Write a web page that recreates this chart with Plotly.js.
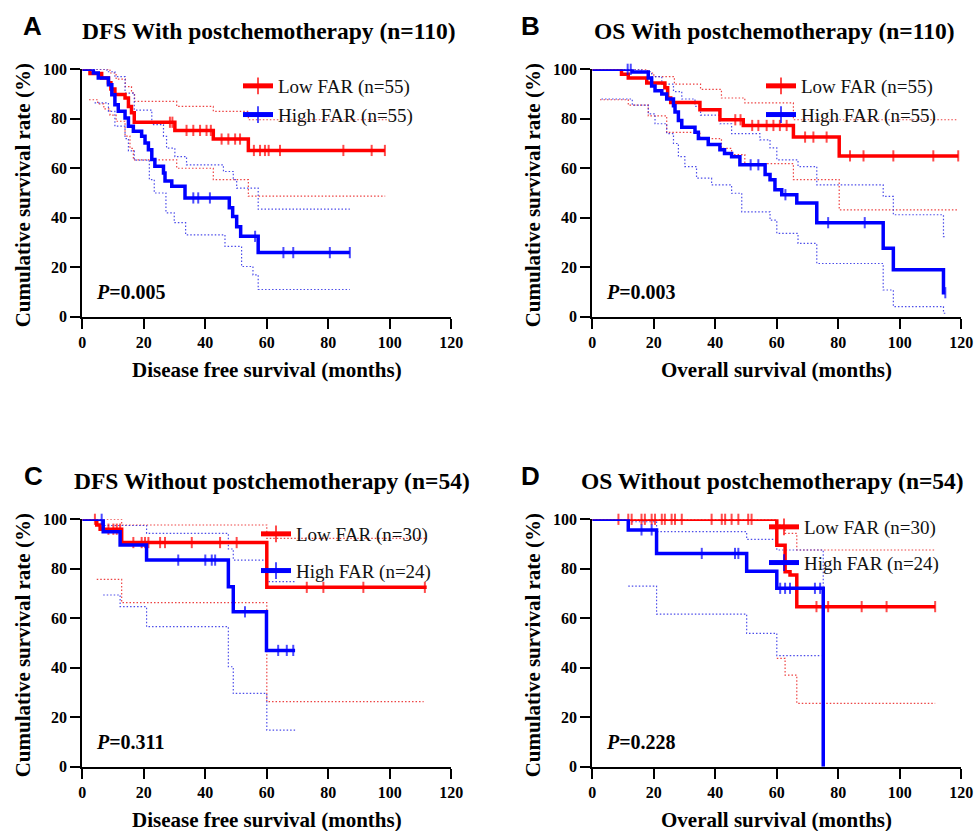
<!DOCTYPE html>
<html><head><meta charset="utf-8">
<script src="https://cdn.plot.ly/plotly-3.0.1.min.js"></script>
<style>html,body{margin:0;padding:0;background:#fff}#chart{width:977px;height:831px}</style>
</head><body><div id="chart"></div>
<script>
// ---------- Panel A: DFS with postchemotherapy ----------
const A_lowT  = [0,2.5,6.3,8.5,9.3,10.6,13.9,15,16,16.9,30.1,42.6,54,98.4];
const A_lowS  = [100,98.3,96.5,94.6,92,89.8,88.4,85,82.4,78.6,75.3,71.8,67.2,67.2];
const A_lowC  = [28.5,29.3,33.9,36.1,38.3,40.4,41.8,45.3,47.5,49.7,51.3,55.8,57.8,59.4,60.6,64.3,84.9,94.1,98.4];
const A_highT = [0,3.6,5.2,8.5,9.6,10.6,11.7,13.9,15,16.6,19.3,20.4,21.5,22.6,23.6,26.4,26.9,29.1,33.4,47.8,48.9,50.2,51.5,57.2,87];
const A_highS = [100,98.5,96.5,93.8,89.7,85.7,83,80.3,77,75,72.9,70.2,67.5,63.5,60.8,58.1,54.8,52.7,48,44,40.5,36.4,32.5,25.9,25.9];
const A_highC = [36.1,37.7,41.5,56.2,65.4,68.6,80.5,87];
const A_lowUpT  = [0,9,11,14,16,17,30.7,42.6,54,99];
const A_lowUpS  = [100,98.5,96,93,90.5,87,85,83,79.6,79.6];
const A_lowLoT  = [2.2,5,7,9,11,13.9,15.5,16.6,30.7,42.6,54,98.5];
const A_lowLoS  = [87.7,86,84,81.5,79,73,68,63.4,60,55.4,48.7,48.7];
const A_highUpT = [0,8,10.6,13.9,16.9,22.6,26.4,27.4,30.1,33.9,45.9,49.1,50.2,57.2,87];
const A_highUpS = [100,99,97,90.4,83.5,77.6,72.9,68.1,64.7,61.4,58.7,55.4,52,43.5,43.5];
const A_highLoT = [4,8.5,10.6,13.9,15,16.9,21.8,23.4,27.2,29.9,33.6,46.4,51.8,55.5,57.2,87];
const A_highLoS = [86.4,83,77,72,67,63.3,55.4,50,42,38,33.1,28.4,20.3,16.9,11,11];

// ---------- Panel B: OS with postchemotherapy ----------
const B_lowT  = [0,9.5,11.7,17.7,23.6,24.5,25.5,35,41.5,49.1,65.4,80.3,119];
const B_lowS  = [100,98,96.5,94.5,92.5,88.4,86.6,83.7,79.6,77.3,72.6,65,65];
const B_lowC  = [46.5,48.2,52,54,56.7,58.9,61,63.2,69.2,71.9,76.2,83.8,88.2,97.9,110.9,119];
const B_highT = [0,13,18.2,19.3,20.4,22.6,24.2,26.4,26.9,28,29.1,33.4,34.5,37.7,41.5,43,45.3,48,56.2,57.8,59.4,61.6,66.5,73,94.6,97.9,114.2,114.8];
const B_highS = [100,98.9,96.5,93.3,91.3,90,88,85.3,82.7,79.3,76.6,74.6,72,69.6,67.5,66,64.7,61.4,57.5,55.4,51.3,49.3,46,38,27.7,19,9.7,9.7];
const B_highC = [11.5,12.5,51.5,54,62.8,76.7,88.6,114.8];
const B_lowUpT  = [0,18,20,26.7,35.2,42,49.6,65.4,119];
const B_lowUpS  = [100,98.5,97,94,91.9,88.4,86.4,79.6,79.6];
const B_lowLoT  = [2.5,11.7,18.2,24.2,35,42,45.3,49.6,65.4,80.3,119];
const B_lowLoS  = [87.7,85.5,81.2,74.5,72,68,65.5,61.9,55.4,43.2,43.2];
const B_highUpT = [0,16,19.3,22.6,26.4,29.1,33.4,35.2,41.5,45.3,54.5,57.8,60,66.9,73,94.6,97.9,114.2,114.8];
const B_highUpS = [100,99,97,94,91,88,85,81.5,78,74,71.5,68.2,63.4,60.7,53.3,48.6,41.2,32.4,32.4];
const B_highLoT = [3,13,18.2,20.4,24.2,26.4,28,30.1,33.9,38.8,45.3,48.6,57.8,60,66.9,73,94.6,97.9,114.2,114.8];
const B_highLoS = [88,85.5,82,78,74,70,64.7,60.7,56,53.3,49.9,42.4,39,33.7,29.6,21.5,10.8,4.1,1.4,1.4];

// ---------- Panel C: DFS without postchemotherapy ----------
const C_lowT  = [0,4.7,5.8,12.8,60,112];
const C_lowS  = [100,97.7,96,90.6,72.5,72.5];
const C_lowC  = [4.1,8.5,10.1,11.2,12.3,16.6,19.3,20.4,21.5,25.3,26.9,35.6,44.8,50.2,73,78.4,91.4,111.4];
const C_highT = [0,6.8,12.3,20.9,47.5,49.1,59.9,69.2];
const C_highS = [100,95,89.6,83.5,72.7,62.6,47,47];
const C_highC = [6.3,31.2,40,42.1,43.2,52.9,63.7,66.5,68.6];
const C_lowUpT  = [0,12.8,60,112];
const C_lowUpS  = [100,97.7,92.3,92.3];
const C_lowLoT  = [4.7,12.8,60,111];
const C_lowLoS  = [75.7,66.3,26.3,26.3];
const C_highUpT = [0,6.8,20.9,47.5,49.1,60,69.2];
const C_highUpS = [100,97.5,94.3,88,83.5,74.8,74.8];
const C_highLoT = [6.8,12.3,20.9,47.5,49.1,60,69.2];
const C_highLoS = [69.4,64.7,56.6,40.4,29.6,14.8,14.8];

// ---------- Panel D: OS without postchemotherapy ----------
const D_lowT  = [0,60,62.7,64.3,66.5,111.5];
const D_lowS  = [100,89.5,78.8,77.5,64.7,64.7];
const D_lowC  = [8.5,11.7,12.8,16,17.1,19.3,20.4,22.6,23.6,25.8,26.9,29.1,38.8,42.1,43.2,45.3,47.5,50.7,51.8,72.9,76.7,87.6,95.7,111.5];
const D_highT = [0,11.7,20.9,50.2,60,75.1];
const D_highS = [100,95.7,86.2,79,72.1,0];
const D_highC = [16,19.3,35.6,46.4,47.5,61.1,62.7,64.3,72.4,74.1];
const D_lowUpT  = [0,60,62.7,66.5,111.5];
const D_lowUpS  = [100,97.7,94.3,87.6,87.6];
const D_lowLoT  = [60,62.7,66.5,111.5];
const D_lowLoS  = [43.8,37,25.6,25.6];
const D_highUpT = [0,11.7,20.9,50.2,60,75.1];
const D_highUpS = [100,99,95,91.9,87.6,72.8];
const D_highLoT = [11.7,20.9,50.2,60,74.5];
const D_highLoS = [73,61.7,53.9,44.9,44.9];

const xTicks = [0,20,40,60,80,100,120];
const yTicks = [0,20,40,60,80,100];
const titles = ['DFS With postchemotherapy (n=110)','OS With postchemotherapy (n=110)',
                'DFS Without postchemotherapy (n=54)','OS Without postchemotherapy (n=54)'];
const xTitles = ['Disease free survival (months)','Overall survival (months)',
                 'Disease free survival (months)','Overall survival (months)'];
const yTitle = 'Cumulative survival rate (%)';
const letters = ['A','B','C','D'];
const pValues = ['0.005','0.003','0.311','0.228'];
const lowNames  = ['Low FAR (n=55)','Low FAR (n=55)','Low FAR (n=30)','Low FAR (n=30)'];
const highNames = ['High FAR (n=55)','High FAR (n=55)','High FAR (n=24)','High FAR (n=24)'];

// ---------- drawing ----------
const SERIF = 'Liberation Serif, Times New Roman, serif';
const SANS = 'Liberation Sans, Arial, sans-serif';
const RED = '#ff0000', BLUE = '#0000ff';
const RED_CI = 'rgba(235,45,45,0.9)', BLUE_CI = 'rgba(45,45,230,0.85)';
const W = 977, H = 831;
const px = x => x / W, py = y => 1 - y / H;

function levelAt(times, surv, t) {
  let v = surv[0];
  for (let i = 0; i < times.length; i++) { if (times[i] <= t) v = surv[i]; else break; }
  return v;
}
function mainTrace(times, surv, cens, name, color, k) {
  const pts = times.map((t, i) => ({x: t, y: surv[i], c: false}));
  cens.forEach(t => pts.push({x: t, y: levelAt(times, surv, t), c: true}));
  pts.sort((a, b) => (a.x - b.x) || ((a.c ? 1 : 0) - (b.c ? 1 : 0)));
  return {
    type: 'scatter', mode: 'lines+markers', name: name,
    x: pts.map(p => p.x), y: pts.map(p => p.y),
    xaxis: 'x' + (k ? k + 1 : ''), yaxis: 'y' + (k ? k + 1 : ''),
    legend: 'legend' + (k ? k + 1 : ''), legendgroup: name + k,
    line: {color: color, width: 3.5, shape: 'hv'},
    marker: {symbol: 'line-ns', size: pts.map(p => p.c ? 8 : 0), color: color, line: {color: color, width: 2}},
    cliponaxis: false, hoverinfo: 'skip'
  };
}
function ciTrace(times, surv, color, k) {
  return {
    type: 'scatter', mode: 'lines', x: times, y: surv, showlegend: false,
    xaxis: 'x' + (k ? k + 1 : ''), yaxis: 'y' + (k ? k + 1 : ''),
    line: {color: color, width: 1.2, shape: 'hv', dash: '1.5px,2px'}, hoverinfo: 'skip'
  };
}

const panels = [
  [A_lowT,A_lowS,A_lowC,A_highT,A_highS,A_highC,A_lowUpT,A_lowUpS,A_lowLoT,A_lowLoS,A_highUpT,A_highUpS,A_highLoT,A_highLoS],
  [B_lowT,B_lowS,B_lowC,B_highT,B_highS,B_highC,B_lowUpT,B_lowUpS,B_lowLoT,B_lowLoS,B_highUpT,B_highUpS,B_highLoT,B_highLoS],
  [C_lowT,C_lowS,C_lowC,C_highT,C_highS,C_highC,C_lowUpT,C_lowUpS,C_lowLoT,C_lowLoS,C_highUpT,C_highUpS,C_highLoT,C_highLoS],
  [D_lowT,D_lowS,D_lowC,D_highT,D_highS,D_highC,D_lowUpT,D_lowUpS,D_lowLoT,D_lowLoS,D_highUpT,D_highUpS,D_highLoT,D_highLoS]
];

const traces = [];
panels.forEach((p, k) => {
  traces.push(ciTrace(p[6], p[7], RED_CI, k));
  traces.push(ciTrace(p[8], p[9], RED_CI, k));
  traces.push(ciTrace(p[10], p[11], BLUE_CI, k));
  traces.push(ciTrace(p[12], p[13], BLUE_CI, k));
});
panels.forEach((p, k) => {
  traces.push(mainTrace(p[0], p[1], p[2], lowNames[k], RED, k));
  traces.push(mainTrace(p[3], p[4], p[5], highNames[k], BLUE, k));
});

// plot-area geometry (pixels)
const colX = [[82.3, 451.3], [592.3, 961.3]];
const rowY = [[69.3, 316.7], [519.3, 766.7]];
const titleCx = [269, 774, 272, 772];
const letterCx = [32, 530, 33, 530];

function axis(domain, anchor, vals, range) {
  return {
    domain: domain, anchor: anchor, range: range, tickmode: 'array', tickvals: vals,
    showgrid: false, zeroline: false, showline: true, linecolor: '#000', linewidth: 2,
    ticks: 'outside', ticklen: 10, tickwidth: 2, tickcolor: '#000',
    tickfont: {family: SERIF, size: 16, color: '#000', weight: 'bold'}, fixedrange: true
  };
}

const layout = {
  width: W, height: H, margin: {l: 0, r: 0, t: 0, b: 0},
  paper_bgcolor: '#fff', plot_bgcolor: '#fff', showlegend: true,
  annotations: [], hovermode: false
};
const legendPos = [[238, 67, 1], [761, 67, 1], [256, 515, 9], [764, 508, 8]];
for (let k = 0; k < 4; k++) {
  const c = k % 2, r = Math.floor(k / 2);
  const sx = k ? String(k + 1) : '';
  layout['xaxis' + sx] = axis([px(colX[c][0]), px(colX[c][1])], 'y' + sx, xTicks, [0, 120]);
  layout['yaxis' + sx] = axis([py(rowY[r][1]), py(rowY[r][0])], 'x' + sx, yTicks, [0, 100]);
  layout['legend' + (k ? k + 1 : '')] = {
    x: px(legendPos[k][0]), y: py(legendPos[k][1]), xanchor: 'left', yanchor: 'top',
    bgcolor: 'rgba(0,0,0,0)', borderwidth: 0, itemsizing: 'constant',
    traceorder: 'grouped', tracegroupgap: legendPos[k][2],
    font: {family: SERIF, size: 19, color: '#111'}
  };
  const x0 = colX[c][0], x1 = colX[c][1], y0 = rowY[r][0], y1 = rowY[r][1];
  // panel letter
  layout.annotations.push({xref: 'paper', yref: 'paper', x: px(letterCx[k]), y: py(y0 - 43), xanchor: 'center', yanchor: 'middle',
    text: '<b>' + letters[k] + '</b>', showarrow: false, font: {family: SANS, size: 26, color: '#000'}});
  // title
  layout.annotations.push({xref: 'paper', yref: 'paper', x: px(titleCx[k]), y: py(y0 - 38), xanchor: 'center', yanchor: 'middle',
    text: '<b>' + titles[k] + '</b>', showarrow: false, font: {family: SERIF, size: 23.5, color: '#000'}});
  // x title
  layout.annotations.push({xref: 'paper', yref: 'paper', x: px((x0 + x1) / 2), y: py(y1 + 53), xanchor: 'center', yanchor: 'middle',
    text: '<b>' + xTitles[k] + '</b>', showarrow: false, font: {family: SERIF, size: 21, color: '#000'}});
  // y title
  layout.annotations.push({xref: 'paper', yref: 'paper', x: px(x0 - 59), y: py((y0 + y1) / 2 + 2), xanchor: 'center', yanchor: 'middle',
    text: '<b>' + yTitle + '</b>', textangle: -90, showarrow: false, font: {family: SERIF, size: 21, color: '#000'}});
  // P value
  layout.annotations.push({xref: 'paper', yref: 'paper', x: px(x0 + 12), y: py(y1 - 25), xanchor: 'left', yanchor: 'middle',
    text: '<b><i>P</i>=' + pValues[k] + '</b>', showarrow: false, font: {family: SERIF, size: 20, color: '#000'}});
}

Plotly.newPlot('chart', traces, layout, {displayModeBar: false, staticPlot: true});
</script></body></html>
